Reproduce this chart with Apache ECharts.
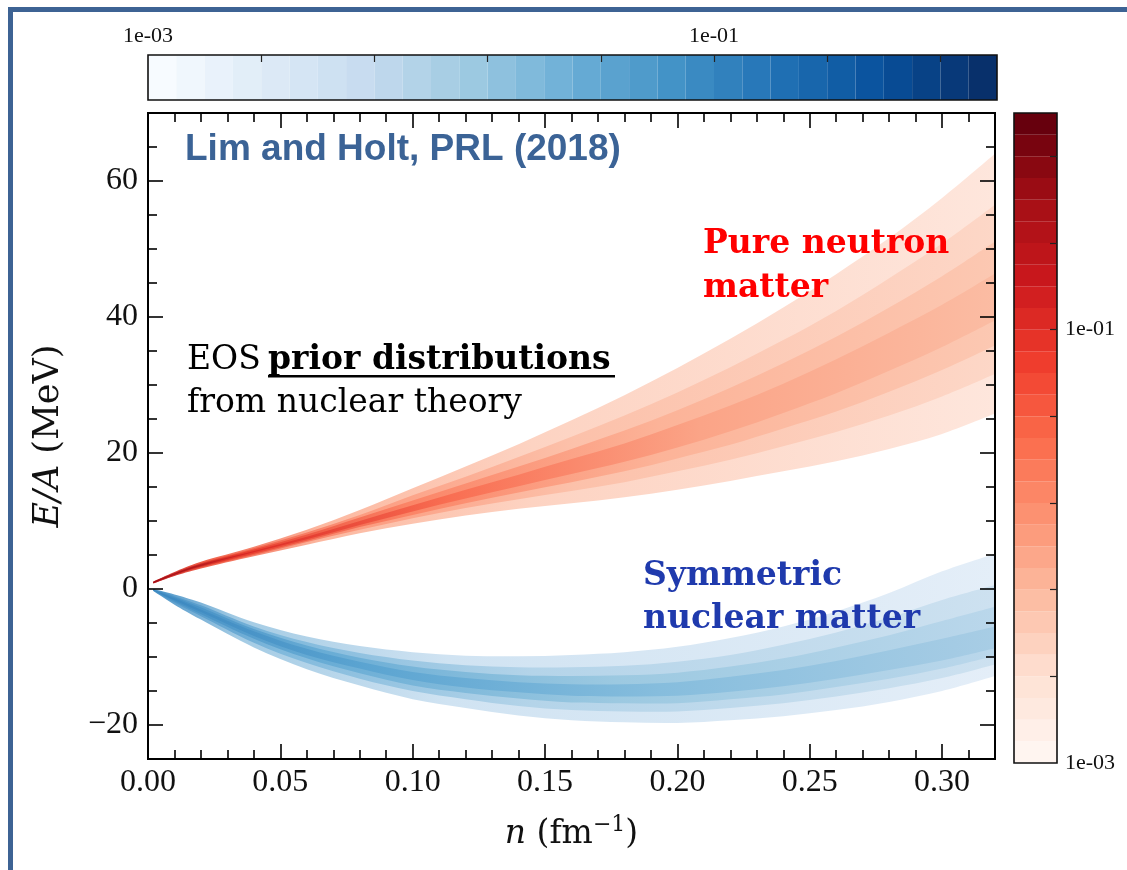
<!DOCTYPE html>
<html>
<head>
<meta charset="utf-8">
<script src="https://cdn.jsdelivr.net/npm/echarts@6/dist/echarts.min.js"></script>
<style>
  html, body { margin: 0; padding: 0; background: #fff; }
  #chart { width: 1127px; height: 870px; }
</style>
</head>
<body>
<div id="chart"></div>
<script>
// density n (fm^-1) sample points shared by both bands
var densN = [0.002, 0.01, 0.02, 0.04, 0.06, 0.08, 0.10, 0.12, 0.14, 0.16, 0.18, 0.20, 0.22, 0.24, 0.26, 0.28, 0.30, 0.32];

// pure neutron matter, E/A contour levels (outer -> core)
var pnmLo0 = [0.8, 1.9, 3.0, 4.8, 6.5, 8.2, 9.6, 10.8, 11.8, 12.6, 13.5, 14.6, 15.9, 17.3, 18.8, 20.6, 22.8, 25.8];
var pnmHi0 = [1.1, 2.5, 4.0, 6.2, 8.7, 11.6, 14.8, 18.0, 21.3, 24.8, 28.5, 32.5, 36.8, 41.4, 46.3, 51.6, 57.5, 64.0];
var pnmLo1 = [0.85, 2.0, 3.2, 5.0, 6.9, 8.7, 10.4, 11.9, 13.2, 14.4, 15.7, 17.3, 19.0, 21.0, 23.1, 25.5, 28.3, 31.6];
var pnmHi1 = [1.07, 2.4, 3.8, 6.0, 8.3, 10.9, 13.8, 16.5, 19.4, 22.4, 25.5, 28.9, 32.6, 36.6, 40.9, 45.7, 50.8, 56.5];
var pnmLo2 = [0.9, 2.1, 3.3, 5.2, 7.1, 9.1, 10.9, 12.6, 14.2, 15.7, 17.3, 19.2, 21.2, 23.6, 26.1, 29.0, 32.2, 35.8];
var pnmHi2 = [1.04, 2.3, 3.7, 5.8, 8.0, 10.5, 13.0, 15.5, 18.0, 20.6, 23.3, 26.3, 29.6, 33.2, 37.1, 41.4, 46.0, 51.1];
var pnmLo3 = [0.93, 2.15, 3.4, 5.4, 7.3, 9.4, 11.4, 13.3, 15.1, 16.9, 18.7, 20.8, 23.2, 25.9, 28.8, 32.1, 35.6, 39.5];
var pnmHi3 = [1.0, 2.25, 3.6, 5.6, 7.7, 10.0, 12.3, 14.6, 16.8, 19.1, 21.4, 24.1, 27.0, 30.2, 33.8, 37.7, 41.8, 46.4];

// symmetric nuclear matter
var snmLo0 = [-0.3, -2.3, -4.5, -8.6, -11.8, -14.2, -16.2, -17.5, -18.6, -19.3, -19.6, -19.7, -19.3, -18.7, -17.8, -16.6, -15.0, -12.8];
var snmHi0 = [0.0, -0.8, -2.0, -4.9, -7.0, -8.4, -9.3, -9.8, -9.9, -9.7, -9.3, -8.5, -7.2, -5.5, -3.3, -0.6, 2.6, 5.2];
var snmLo1 = [-0.25, -2.0, -4.0, -7.9, -10.9, -13.2, -15.0, -16.2, -17.2, -17.8, -18.0, -18.0, -17.5, -16.8, -15.8, -14.6, -13.1, -11.1];
var snmHi1 = [-0.05, -1.05, -2.4, -5.5, -7.8, -9.4, -10.5, -11.2, -11.5, -11.5, -11.3, -10.7, -9.7, -8.2, -6.4, -4.2, -1.6, 0.6];
var snmLo2 = [-0.2, -1.8, -3.7, -7.3, -10.2, -12.4, -14.2, -15.3, -16.1, -16.7, -16.8, -16.8, -16.2, -15.5, -14.4, -13.2, -11.7, -9.8];
var snmHi2 = [-0.1, -1.2, -2.7, -5.9, -8.3, -10.1, -11.4, -12.2, -12.7, -12.8, -12.7, -12.3, -11.4, -10.2, -8.6, -6.8, -4.7, -2.6];
var snmLo3 = [-0.17, -1.65, -3.4, -6.9, -9.7, -11.7, -13.4, -14.5, -15.2, -15.7, -15.8, -15.7, -15.1, -14.3, -13.2, -11.9, -10.5, -8.7];
var snmHi3 = [-0.13, -1.37, -3.0, -6.2, -8.8, -10.7, -12.2, -13.1, -13.7, -14.0, -14.0, -13.7, -12.9, -11.9, -10.6, -9.0, -7.3, -5.5];

// axis ticks
var xMajor = [0, 0.05, 0.10, 0.15, 0.20, 0.25, 0.30];
var xMajorLabels = ['0.00', '0.05', '0.10', '0.15', '0.20', '0.25', '0.30'];
var xMinor = [0.01, 0.02, 0.03, 0.04, 0.06, 0.07, 0.08, 0.09, 0.11, 0.12, 0.13, 0.14, 0.16, 0.17, 0.18, 0.19, 0.21, 0.22, 0.23, 0.24, 0.26, 0.27, 0.28, 0.29, 0.31];
var yMajor = [-20, 0, 20, 40, 60];
var yMajorLabels = ['\u221220', '0', '20', '40', '60'];
var yMinor = [-25, -15, -10, -5, 5, 10, 15, 25, 30, 35, 45, 50, 55, 65, 70];

// colorbars: 30 bins, ticks every 0.4 decade
var cbBins = [0, 1, 2, 3, 4, 5, 6, 7, 8, 9, 10, 11, 12, 13, 14, 15, 16, 17, 18, 19, 20, 21, 22, 23, 24, 25, 26, 27, 28, 29];
var cbTicks = [1, 2, 3, 4, 5, 6, 7];
var cbLabelVals = [0, 5];
var cbLabels = ['1e-03', '1e-01'];

var bluesMap = ['#f7fbff', '#deebf7', '#c6dbef', '#9ecae1', '#6baed6', '#4292c6', '#2171b5', '#08519c', '#08306b'];
var redsMap = ['#fff5f0', '#fee0d2', '#fcbba1', '#fc9272', '#fb6a4a', '#ef3b2c', '#cb181d', '#a50f15', '#67000d'];

var grad = function (stops) {
  return new echarts.graphic.LinearGradient(0, 0, 1, 0, stops.map(function (s) {
    return {offset: s[0], color: s[1]};
  }));
};

var pnmFills = [
  grad([[0, '#c8302e'], [0.06, '#f0604a'], [0.2, '#fcb8a0'], [0.45, '#fdd3c2'], [1, '#fee6dc']]),
  grad([[0, '#b8191f'], [0.08, '#ee4f3a'], [0.25, '#fc9c80'], [0.5, '#fcc1aa'], [1, '#fdd7c7']]),
  grad([[0, '#a8121a'], [0.1, '#e63b2c'], [0.3, '#fb8466'], [0.6, '#fcb398'], [1, '#fcc8b2']]),
  grad([[0, '#990b14'], [0.12, '#dd2c26'], [0.35, '#f96e52'], [0.65, '#fba487'], [1, '#fbbca3']])
];
var snmFills = [
  grad([[0, '#4d95c8'], [0.1, '#a3cbe4'], [0.35, '#d0e3f2'], [1, '#e4eef8']]),
  grad([[0, '#4690c5'], [0.15, '#80b9dc'], [0.45, '#b4d4e9'], [1, '#cde1f0']]),
  grad([[0, '#3f8bc2'], [0.2, '#68acd5'], [0.55, '#9cc9e1'], [1, '#bad7eb']]),
  grad([[0, '#3a86bf'], [0.25, '#5ba4d1'], [0.6, '#86bddd'], [1, '#a8cde5']])
];

// smooth curve through pixel points (catmull-rom -> cubic bezier)
function curvePath(pts, move) {
  var d = (move ? 'M' : 'L') + pts[0][0] + ',' + pts[0][1];
  var last = pts.length - 1;
  for (var i = 0; i < last; i++) {
    var p0 = pts[Math.max(i - 1, 0)], p1 = pts[i], p2 = pts[i + 1], p3 = pts[Math.min(i + 2, last)];
    d += 'C' + (p1[0] + (p2[0] - p0[0]) / 6) + ',' + (p1[1] + (p2[1] - p0[1]) / 6) +
      ' ' + (p2[0] - (p3[0] - p1[0]) / 6) + ',' + (p2[1] - (p3[1] - p1[1]) / 6) +
      ' ' + p2[0] + ',' + p2[1];
  }
  return d;
}

// one filled region per contour level
function bandRender(los, his, fills) {
  return function (params, api) {
    var k = params.dataIndex;
    var top = [], bot = [];
    for (var i = 0; i < densN.length; i++) {
      top.push(api.coord([densN[i], his[k][i]]));
    }
    for (var j = densN.length - 1; j >= 0; j--) {
      bot.push(api.coord([densN[j], los[k][j]]));
    }
    return {
      type: 'path',
      shape: {pathData: curvePath(top, true) + curvePath(bot, false) + 'Z'},
      style: {fill: fills[k]}
    };
  };
}

var serif = 'Liberation Serif';
var frameLine = {show: true, onZero: false, lineStyle: {color: '#000', width: 2}};

function xAx(pos, ticks, len, withLabels) {
  var a = {
    type: 'value', gridIndex: 0, position: pos, min: 0, max: 0.32, z: 10,
    axisLine: frameLine,
    splitLine: {show: false},
    axisTick: {show: true, inside: true, length: len, customValues: ticks, lineStyle: {color: '#000', width: 1.6}},
    axisLabel: {show: false}
  };
  if (withLabels) {
    a.axisLabel = {
      show: true, customValues: xMajor, margin: 8,
      fontFamily: serif, fontSize: 32, color: '#111',
      formatter: function (v) { return xMajorLabels[xMajor.indexOf(Math.round(v * 100) / 100)]; }
    };
    a.name = '{i|n} (fm{s|\u22121})';
    a.nameLocation = 'middle';
    a.nameGap = 55;
    a.nameTextStyle = {
      fontFamily: 'DejaVu Serif', fontSize: 33, color: '#111',
      rich: {
        i: {fontFamily: 'DejaVu Serif', fontSize: 33, fontStyle: 'italic', color: '#111'},
        s: {fontFamily: 'DejaVu Serif', fontSize: 22, verticalAlign: 'top', color: '#111', padding: [0, 0, 18, 0]}
      }
    };
  }
  return a;
}

function yAx(pos, ticks, len, withLabels) {
  var a = {
    type: 'value', gridIndex: 0, position: pos, min: -25, max: 70, z: 10,
    axisLine: frameLine,
    splitLine: {show: false},
    axisTick: {show: true, inside: true, length: len, customValues: ticks, lineStyle: {color: '#000', width: 1.6}},
    axisLabel: {show: false}
  };
  if (withLabels) {
    a.axisLabel = {
      show: true, customValues: yMajor, margin: 10,
      fontFamily: serif, fontSize: 32, color: '#111',
      formatter: function (v) { return yMajorLabels[yMajor.indexOf(v)]; }
    };
    a.name = '{i|E/A} (MeV)';
    a.nameLocation = 'middle';
    a.nameGap = 82;
    a.nameRotate = 90;
    a.nameTextStyle = {
      fontFamily: 'DejaVu Serif', fontSize: 35, color: '#111',
      rich: {i: {fontFamily: 'DejaVu Serif', fontSize: 35, fontStyle: 'italic', color: '#111'}}
    };
  }
  return a;
}

var chart = echarts.init(document.getElementById('chart'));
chart.setOption({
  backgroundColor: '#fff',
  animation: false,
  grid: [
    {left: 148, top: 113, width: 847, height: 646},
    {left: 148, top: 55, width: 849, height: 45, show: true, z: 10, backgroundColor: 'transparent', borderColor: '#111', borderWidth: 1.6},
    {left: 1014, top: 113, width: 43, height: 650, show: true, z: 10, backgroundColor: 'transparent', borderColor: '#111', borderWidth: 1.6}
  ],
  xAxis: [
    xAx('bottom', xMajor, 15, true),
    xAx('bottom', xMinor, 9, false),
    xAx('top', xMajor, 15, false),
    xAx('top', xMinor, 9, false),
    {type: 'category', gridIndex: 1, data: cbBins, show: false},
    {
      type: 'value', gridIndex: 1, position: 'top', min: 0, max: 7.5, z: 12,
      axisLine: {show: false}, splitLine: {show: false},
      axisTick: {show: true, inside: true, length: 7, customValues: cbTicks, lineStyle: {color: '#222', width: 1.2}},
      axisLabel: {
        show: true, customValues: cbLabelVals, margin: 8, fontFamily: serif, fontSize: 22, color: '#111',
        formatter: function (v) { return cbLabels[cbLabelVals.indexOf(v)]; }
      }
    },
    {type: 'value', gridIndex: 2, min: 0, max: 1, show: false}
  ],
  yAxis: [
    yAx('left', yMajor, 15, true),
    yAx('left', yMinor, 9, false),
    yAx('right', yMajor, 15, false),
    yAx('right', yMinor, 9, false),
    {type: 'value', gridIndex: 1, min: 0, max: 1, show: false},
    {type: 'category', gridIndex: 2, data: cbBins, show: false},
    {
      type: 'value', gridIndex: 2, position: 'right', min: 0, max: 7.5, z: 12,
      axisLine: {show: false}, splitLine: {show: false},
      axisTick: {show: true, inside: true, length: 7, customValues: cbTicks, lineStyle: {color: '#222', width: 1.2}},
      axisLabel: {
        show: true, customValues: cbLabelVals, margin: 8, fontFamily: serif, fontSize: 22, color: '#111',
        formatter: function (v) { return cbLabels[cbLabelVals.indexOf(v)]; }
      }
    }
  ],
  visualMap: [
    {type: 'continuous', show: false, seriesIndex: 2, dimension: 0, min: 0, max: 29, inRange: {color: bluesMap}},
    {type: 'continuous', show: false, seriesIndex: 3, dimension: 1, min: 0, max: 29, inRange: {color: redsMap}}
  ],
  series: [
    {
      name: 'Pure neutron matter', type: 'custom', xAxisIndex: 0, yAxisIndex: 0,
      data: [0, 1, 2, 3], renderItem: bandRender([pnmLo0, pnmLo1, pnmLo2, pnmLo3], [pnmHi0, pnmHi1, pnmHi2, pnmHi3], pnmFills),
      silent: true
    },
    {
      name: 'Symmetric nuclear matter', type: 'custom', xAxisIndex: 0, yAxisIndex: 0,
      data: [0, 1, 2, 3], renderItem: bandRender([snmLo0, snmLo1, snmLo2, snmLo3], [snmHi0, snmHi1, snmHi2, snmHi3], snmFills),
      silent: true
    },
    {
      type: 'bar', xAxisIndex: 4, yAxisIndex: 4, barWidth: '100%', barCategoryGap: '0%', silent: true,
      data: cbBins.map(function (b) { return [b, 1]; })
    },
    {
      type: 'bar', xAxisIndex: 6, yAxisIndex: 5, barWidth: '100%', barCategoryGap: '0%', silent: true,
      data: cbBins.map(function (b) { return [1, b]; })
    }
  ],
  graphic: [
    {type: 'rect', shape: {x: 10.5, y: 9.5, width: 1300, height: 1000}, style: {fill: 'none', stroke: '#3d6394', lineWidth: 5}, z: 100},
    {type: 'text', x: 185, y: 150, style: {text: 'Lim and Holt, PRL (2018)', fill: '#3b6396', fontFamily: 'Liberation Sans', fontWeight: 'bold', fontSize: 37, verticalAlign: 'middle'}, z: 100},
    {type: 'text', x: 187, y: 360, style: {text: 'EOS', fill: '#000', fontFamily: 'DejaVu Serif', fontSize: 33, verticalAlign: 'middle'}, z: 100},
    {type: 'text', x: 268, y: 360, style: {text: 'prior distributions', fill: '#000', fontFamily: 'DejaVu Serif', fontWeight: 'bold', fontSize: 33, verticalAlign: 'middle'}, z: 100},
    {type: 'rect', shape: {x: 268, y: 375, width: 347, height: 2.5}, style: {fill: '#000'}, z: 100},
    {type: 'text', x: 187, y: 403, style: {text: 'from nuclear theory', fill: '#000', fontFamily: 'DejaVu Serif', fontSize: 33, verticalAlign: 'middle'}, z: 100},
    {type: 'text', x: 703, y: 222, style: {text: 'Pure neutron\nmatter', fill: '#ff0000', fontFamily: 'DejaVu Serif', fontWeight: 'bold', fontSize: 33, lineHeight: 44, verticalAlign: 'top'}, z: 100},
    {type: 'text', x: 643, y: 555, style: {text: 'Symmetric\nnuclear matter', fill: '#1f3aad', fontFamily: 'DejaVu Serif', fontWeight: 'bold', fontSize: 33, lineHeight: 43, verticalAlign: 'top'}, z: 100}
  ]
});
</script>
</body>
</html>
